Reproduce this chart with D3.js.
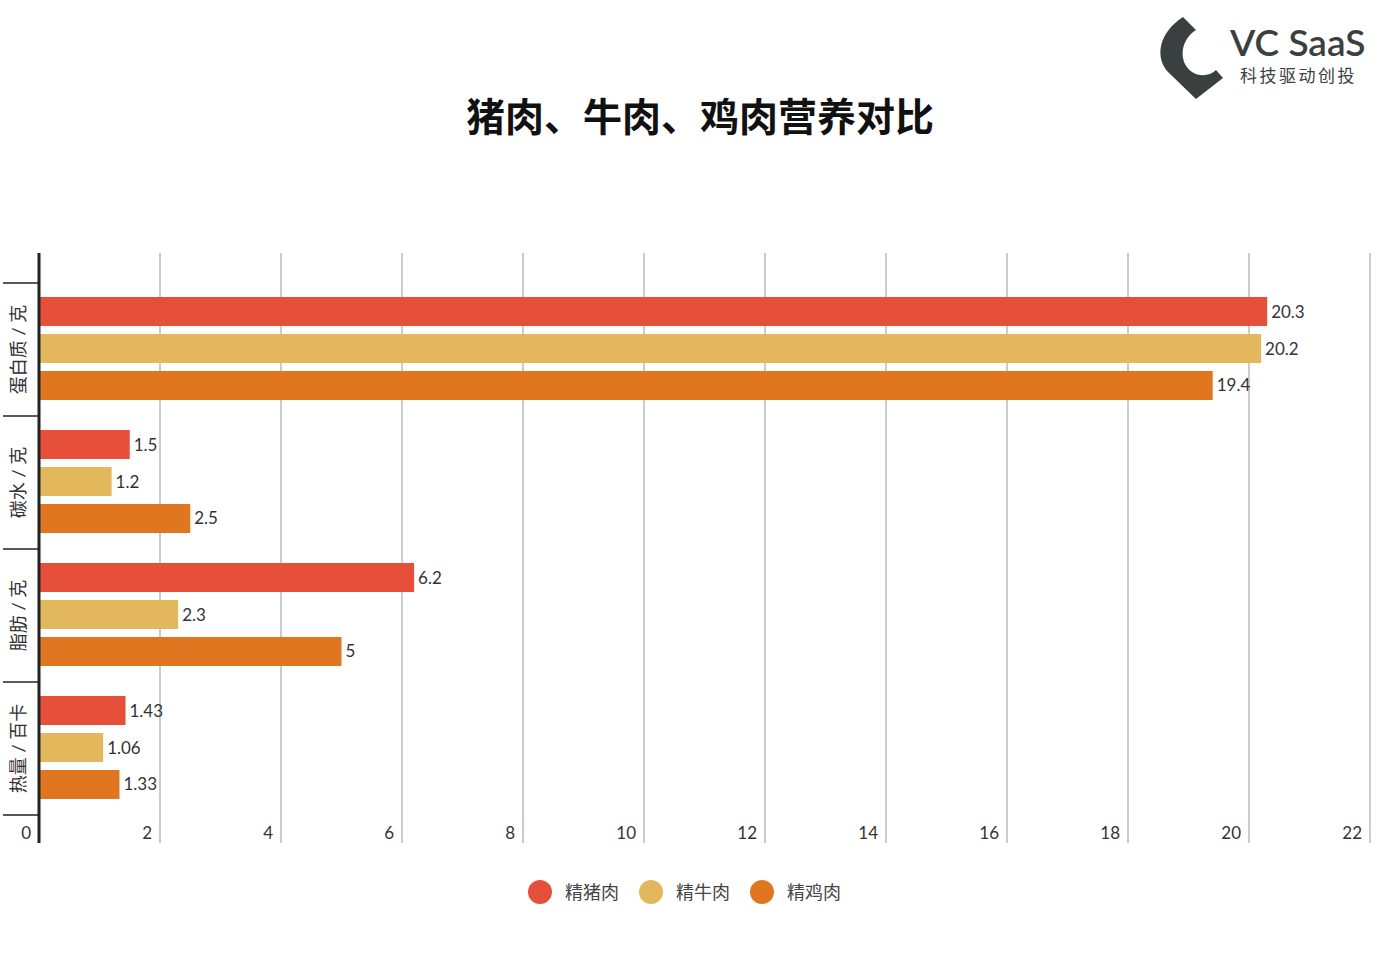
<!DOCTYPE html>
<html><head><meta charset="utf-8">
<script src="https://cdn.jsdelivr.net/npm/d3@7"></script>
<style>body{margin:0;background:#fff}text{font-family:"Lato","Noto Sans CJK SC",sans-serif}</style>
</head><body><svg id="c" width="1392" height="954"></svg>
<script>
const categories=["蛋白质 / 克","碳水 / 克","脂肪 / 克","热量 / 百卡"];
const seriesNames=["精猪肉","精牛肉","精鸡肉"];
const pork=[20.3,1.5,6.2,1.43];
const beef=[20.2,1.2,2.3,1.06];
const chicken=[19.4,2.5,5,1.33];
const xTicks=[0,2,4,6,8,10,12,14,16,18,20,22];
const colors=["#e6503a","#e3b85c","#e07720"];
const series=[pork,beef,chicken];

const svg=d3.select("#c");
const x=d3.scaleLinear().domain([0,22]).range([39,1370]);
const y=d3.scaleBand().domain(categories).range([283,815]);
const ySub=d3.scaleBand().domain(d3.range(3)).range([14,117]).paddingInner(0.216);
const plotTop=253,plotBottom=843;

svg.append("text").attr("x",700).attr("y",131).attr("text-anchor","middle")
 .attr("font-size",39).attr("font-weight","bold").attr("fill","#111")
 .attr("font-family","Noto Sans CJK SC").text("猪肉、牛肉、鸡肉营养对比");

xTicks.slice(1).forEach(t=>{
 svg.append("line").attr("x1",x(t)).attr("x2",x(t)).attr("y1",plotTop).attr("y2",plotBottom).attr("stroke","#aaa").attr("stroke-width",1.2);
});
xTicks.forEach(t=>{
 svg.append("text").attr("x",x(t)-8).attr("y",839).attr("text-anchor","end")
  .attr("font-size",17).attr("fill","#333").text(t);
});
categories.forEach((c,i)=>{
 series.forEach((s,j)=>{
  const yy=y(c)+ySub(j);
  svg.append("rect").attr("x",x(0)).attr("y",yy).attr("width",x(s[i])-x(0)).attr("height",ySub.bandwidth()).attr("fill",colors[j]);
  svg.append("text").attr("x",x(s[i])+4).attr("y",yy+ySub.bandwidth()/2+6).attr("font-size",17).attr("fill","#333").text(s[i]);
 });
 svg.append("text").attr("transform",`translate(25,${y(c)+y.bandwidth()/2}) rotate(-90)`)
  .attr("text-anchor","middle").attr("font-size",18).attr("fill","#333").attr("font-family","Noto Sans CJK SC").text(c);
});
y.domain().forEach(c=>{
 svg.append("line").attr("x1",3).attr("x2",39).attr("y1",y(c)).attr("y2",y(c)).attr("stroke","#222").attr("stroke-width",1.5);
});
svg.append("line").attr("x1",3).attr("x2",39).attr("y1",815).attr("y2",815).attr("stroke","#222").attr("stroke-width",1.5);
svg.append("line").attr("x1",39).attr("x2",39).attr("y1",plotTop).attr("y2",plotBottom).attr("stroke","#222").attr("stroke-width",3);

const lx=[540,651,762];
seriesNames.forEach((n,i)=>{
 svg.append("circle").attr("cx",lx[i]).attr("cy",892).attr("r",12).attr("fill",colors[i]);
 svg.append("text").attr("x",lx[i]+25).attr("y",899).attr("font-size",18).attr("fill","#444").attr("font-family","Noto Sans CJK SC").text(n);
});

const g=svg.append("g");
g.append("path").attr("d","M1183,17 L1196,30 C1180,40 1178,62 1192,72 C1200,77 1210,76 1216,70 L1223,78 L1196,99 L1168,72 C1155,58 1158,33 1183,17 Z").attr("fill","#3a3f3f");
g.append("text").attr("x",1230).attr("y",56).attr("font-size",37).attr("font-weight","600").attr("fill","#3a3f3f").attr("font-family","Open Sans").text("VC SaaS");
g.append("text").attr("x",1240).attr("y",82).attr("font-size",17).attr("fill","#3a3f3f").attr("letter-spacing",2.5).attr("font-family","Noto Sans CJK SC").text("科技驱动创投");
</script></body></html>
